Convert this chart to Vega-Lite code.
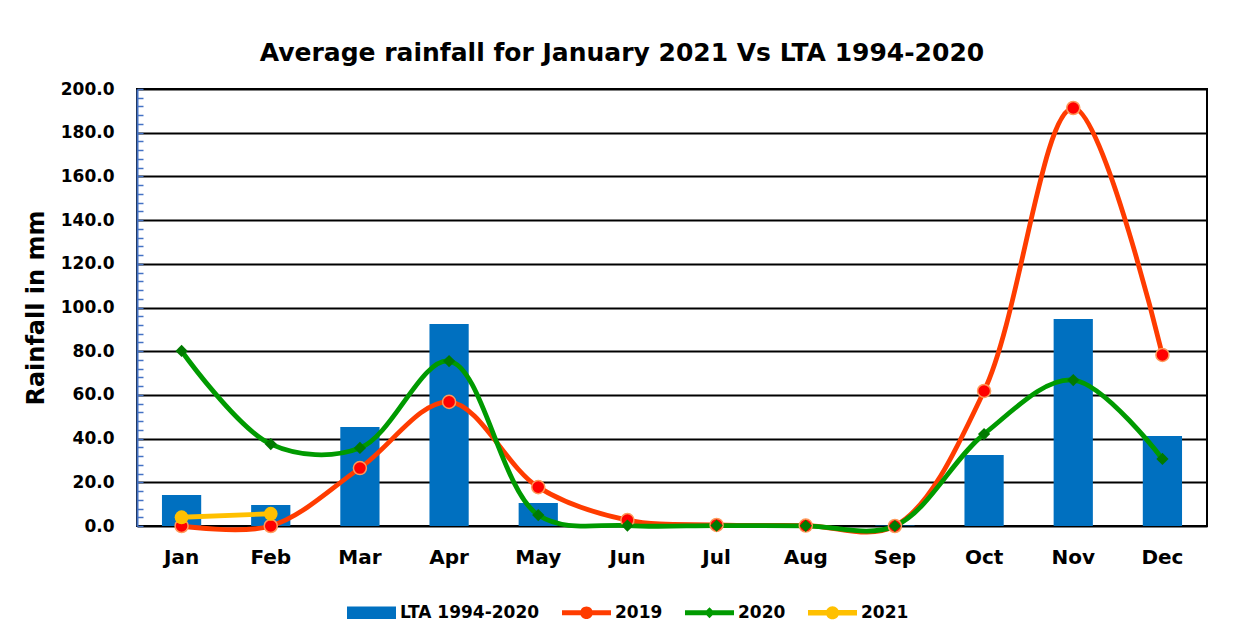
{
  "$schema": "https://vega.github.io/schema/vega-lite/v6.json",
  "width": 1070,
  "height": 437,
  "autosize": {"type": "none"},
  "padding": {"left": 137, "top": 89, "right": 33, "bottom": 113},
  "background": "white",
  "title": {
    "text": "Average rainfall for January 2021 Vs LTA 1994-2020",
    "font": "DejaVu Sans",
    "fontSize": 25,
    "fontWeight": "bold",
    "color": "black",
    "anchor": "middle",
    "frame": "group",
    "dx": -50,
    "offset": 14
  },
  "config": {
    "view": {"stroke": "black", "strokeWidth": 2},
    "font": "DejaVu Sans"
  },
  "data": {
    "values": [
      {"month": "Jan", "series": "LTA 1994-2020", "value": 14.2},
      {"month": "Feb", "series": "LTA 1994-2020", "value": 9.6},
      {"month": "Mar", "series": "LTA 1994-2020", "value": 45.3},
      {"month": "Apr", "series": "LTA 1994-2020", "value": 92.4},
      {"month": "May", "series": "LTA 1994-2020", "value": 10.5},
      {"month": "Jun", "series": "LTA 1994-2020", "value": 0.2},
      {"month": "Jul", "series": "LTA 1994-2020", "value": 0.1},
      {"month": "Aug", "series": "LTA 1994-2020", "value": 0.1},
      {"month": "Sep", "series": "LTA 1994-2020", "value": 0.2},
      {"month": "Oct", "series": "LTA 1994-2020", "value": 32.5},
      {"month": "Nov", "series": "LTA 1994-2020", "value": 94.7},
      {"month": "Dec", "series": "LTA 1994-2020", "value": 41.2},
      {"month": "Jan", "series": "2019", "value": 0},
      {"month": "Feb", "series": "2019", "value": 0},
      {"month": "Mar", "series": "2019", "value": 26.5},
      {"month": "Apr", "series": "2019", "value": 56.8},
      {"month": "May", "series": "2019", "value": 17.8},
      {"month": "Jun", "series": "2019", "value": 2.7},
      {"month": "Jul", "series": "2019", "value": 0.5},
      {"month": "Aug", "series": "2019", "value": 0.2},
      {"month": "Sep", "series": "2019", "value": 0},
      {"month": "Oct", "series": "2019", "value": 61.8},
      {"month": "Nov", "series": "2019", "value": 191.3},
      {"month": "Dec", "series": "2019", "value": 78.3},
      {"month": "Jan", "series": "2020", "value": 80.1},
      {"month": "Feb", "series": "2020", "value": 37.5},
      {"month": "Mar", "series": "2020", "value": 35.7},
      {"month": "Apr", "series": "2020", "value": 75.5},
      {"month": "May", "series": "2020", "value": 5.0},
      {"month": "Jun", "series": "2020", "value": 0.2},
      {"month": "Jul", "series": "2020", "value": 0.2},
      {"month": "Aug", "series": "2020", "value": 0.1},
      {"month": "Sep", "series": "2020", "value": 0},
      {"month": "Oct", "series": "2020", "value": 42.1},
      {"month": "Nov", "series": "2020", "value": 66.8},
      {"month": "Dec", "series": "2020", "value": 30.7},
      {"month": "Jan", "series": "2021", "value": 4.0},
      {"month": "Feb", "series": "2021", "value": 5.6}
    ]
  },
  "encoding": {
    "x": {
      "field": "month",
      "type": "nominal",
      "sort": ["Jan","Feb","Mar","Apr","May","Jun","Jul","Aug","Sep","Oct","Nov","Dec"],
      "scale": {"paddingInner": 0.56, "paddingOuter": 0.28},
      "axis": {
        "title": null,
        "labelAngle": 0,
        "domain": false,
        "ticks": false,
        "labelPadding": 21,
        "labelFont": "DejaVu Sans",
        "labelFontSize": 20,
        "labelFontWeight": "bold",
        "labelColor": "black"
      }
    },
    "y": {
      "field": "value",
      "type": "quantitative",
      "scale": {"domain": [0, 200], "nice": false, "zero": true},
      "axis": {
        "title": "Rainfall in mm",
        "titleFont": "DejaVu Sans",
        "titleFontSize": 24,
        "titleFontWeight": "bold",
        "titleColor": "black",
        "titlePadding": 12,
        "values": [0,4,8,12,16,20,24,28,32,36,40,44,48,52,56,60,64,68,72,76,80,84,88,92,96,100,104,108,112,116,120,124,128,132,136,140,144,148,152,156,160,164,168,172,176,180,184,188,192,196,200],
        "labelExpr": "datum.value % 20 === 0 ? format(datum.value, '.1f') : ''",
        "labelOverlap": false,
        "labelFlush": false,
        "labelFont": "DejaVu Sans",
        "labelFontSize": 17,
        "labelFontWeight": "bold",
        "labelColor": "black",
        "labelPadding": 29,
        "domainColor": "#4472C4",
        "domainWidth": 2,
        "tickColor": "#4472C4",
        "tickSize": -6,
        "tickWidth": 1.5,
        "grid": true,
        "gridColor": {"condition": {"test": "datum.value % 20 === 0", "value": "black"}, "value": "transparent"},
        "gridWidth": 2
      }
    }
  },
  "layer": [
    {
      "transform": [{"filter": "datum.series === 'LTA 1994-2020'"}],
      "mark": {"type": "bar", "color": "#0070C0"},
      "encoding": {
        "color": {"field": "series", "type": "nominal",
          "scale": {"domain": ["LTA 1994-2020","2019","2020","2021"], "range": ["#0070C0","#FF3C00","#009A00","#FFC000"]},
          "legend": {
            "title": null,
            "orient": "none",
            "direction": "horizontal",
            "legendX": 210,
            "legendY": 499,
            "padding": 0,
            "symbolSize": 2401,
            "symbolOpacity": 1,
            "symbolStrokeWidth": 0,
            "labelFont": "DejaVu Sans",
            "labelFontSize": 17,
            "labelFontWeight": "bold",
            "labelColor": "black",
            "labelOffset": 4,
            "columnPadding": 22
          }
        }
      }
    },
    {
      "transform": [{"filter": "datum.series !== 'LTA 1994-2020'"}],
      "mark": {"type": "line", "interpolate": "catmull-rom", "strokeWidth": 4.8, "strokeCap": "round"},
      "encoding": {
        "color": {"field": "series", "type": "nominal"}
      }
    },
    {
      "transform": [{"filter": "datum.series === '2019'"}],
      "mark": {"type": "point", "shape": "circle", "filled": true, "fill": "#FF0000", "stroke": "#FF9A5A", "strokeWidth": 1.5, "size": 170, "opacity": 1}
    },
    {
      "transform": [{"filter": "datum.series === '2020'"}],
      "mark": {"type": "point", "shape": "diamond", "filled": true, "fill": "#007A00", "size": 150, "opacity": 1}
    },
    {
      "transform": [{"filter": "datum.series === '2021'"}],
      "mark": {"type": "point", "shape": "circle", "filled": true, "fill": "#FFC000", "size": 190, "opacity": 1}
    },
    {
      "transform": [{"filter": "datum.value < -1"}],
      "mark": {"type": "point", "filled": true, "opacity": 1},
      "encoding": {
        "color": {"field": "series", "type": "nominal"},
        "shape": {"field": "series", "type": "nominal",
          "scale": {"domain": ["LTA 1994-2020","2019","2020","2021"],
            "range": [
              "M-1,-0.26H1V0.26H-1Z",
              "M-1,-0.1H1V0.1H-1Z M-0.26,0A0.26,0.26 0 1,1 0.26,0A0.26,0.26 0 1,1 -0.26,0Z",
              "M-1,-0.1H1V0.1H-1Z M0,-0.22L0.22,0L0,0.22L-0.22,0Z",
              "M-1,-0.11H1V0.11H-1Z M-0.27,0A0.27,0.27 0 1,1 0.27,0A0.27,0.27 0 1,1 -0.27,0Z"
            ]},
          "legend": {
            "title": null,
            "orient": "none",
            "direction": "horizontal",
            "legendX": 210,
            "legendY": 499,
            "padding": 0,
            "symbolSize": 2401,
            "symbolOpacity": 1,
            "symbolStrokeWidth": 0,
            "labelFont": "DejaVu Sans",
            "labelFontSize": 17,
            "labelFontWeight": "bold",
            "labelColor": "black",
            "labelOffset": 4,
            "columnPadding": 22
          }
        }
      }
    }
  ]
}
